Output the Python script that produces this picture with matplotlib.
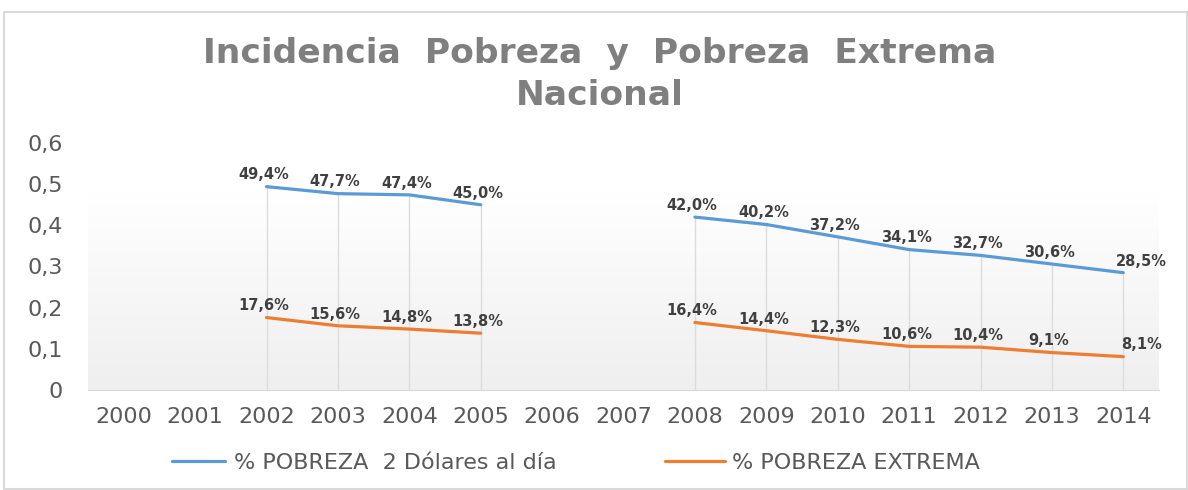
import numpy as np
import matplotlib.pyplot as plt
from matplotlib.patches import Rectangle
from matplotlib.colors import LinearSegmentedColormap

plt.rcParams['font.family'] = ['DejaVu Sans']

years = list(range(2000, 2015))
pobreza = [np.nan, np.nan, 0.494, 0.477, 0.474, 0.450, np.nan, np.nan,
           0.420, 0.402, 0.372, 0.341, 0.327, 0.306, 0.285]
extrema = [np.nan, np.nan, 0.176, 0.156, 0.148, 0.138, np.nan, np.nan,
           0.164, 0.144, 0.123, 0.106, 0.104, 0.091, 0.081]
ytick_vals = [0, 0.1, 0.2, 0.3, 0.4, 0.5, 0.6]
ytick_labels = ['0', '0,1', '0,2', '0,3', '0,4', '0,5', '0,6']
names = ['% POBREZA  2 Dólares al día', '% POBREZA EXTREMA']

blue = '#5B9BD5'
orange = '#ED7D31'
txt = '#595959'

fig = plt.figure(figsize=(11.88, 4.9), dpi=100)
fig.patches.append(Rectangle((4/1188, 1/490), 1183/1188, 477/490, transform=fig.transFigure,
                             fill=False, ec='#d9d9d9', lw=1.5))
ax = fig.add_axes([88/1188, 1-390/490, 1071/1188, 247/490])
x = np.arange(len(years))

# plot area gradient
grad = np.linspace(0, 1, 256).reshape(-1, 1)
cm = LinearSegmentedColormap.from_list('g', [(0, '#efefef'), (0.8, '#ffffff'), (1, '#ffffff')])
ax.imshow(grad, extent=(-0.5, len(years)-0.5, 0, 0.6), origin='lower', aspect='auto',
          cmap=cm, zorder=0)

# drop lines
for xi, v in zip(x, pobreza):
    if not np.isnan(v):
        ax.plot([xi, xi], [0, v], color='#dcdcdc', lw=1, zorder=1)

l1, = ax.plot(x, pobreza, color=blue, lw=2.3, solid_capstyle='round', zorder=3)
l2, = ax.plot(x, extrema, color=orange, lw=2.3, solid_capstyle='round', zorder=3)

for series in (pobreza, extrema):
    for i, (xi, v) in enumerate(zip(x, series)):
        if np.isnan(v):
            continue
        dx = 13 if i == 14 else -2
        ax.annotate(f'{v*100:.1f}%'.replace('.', ','), (xi, v), xytext=(dx, 3),
                    textcoords='offset points', ha='center', va='bottom',
                    fontsize=10.5, fontweight='bold', color='#404040', zorder=4)

ax.set_xlim(-0.5, len(years)-0.5)
ax.set_ylim(0, 0.6)
ax.set_xticks(x)
ax.set_xticklabels([str(y) for y in years])
ax.set_yticks(ytick_vals)
ax.set_yticklabels(ytick_labels)
ax.tick_params(length=0, labelsize=16, colors=txt)
ax.tick_params(axis='x', pad=12)
ax.tick_params(axis='y', pad=18)
for s in ['top', 'right', 'left']:
    ax.spines[s].set_visible(False)
ax.spines['bottom'].set_color('#d9d9d9')

fig.text(600/1188, 1-63/490, 'Incidencia  Pobreza  y  Pobreza  Extrema', ha='center', va='baseline',
         fontsize=24.8, fontweight='bold', color='#7f7f7f')
fig.text(600/1188, 1-105/490, 'Nacional', ha='center', va='baseline',
         fontsize=24.8, fontweight='bold', color='#7f7f7f')

fig.legend([l1], [names[0]], loc='center left', bbox_to_anchor=(172/1188, 1-463/490),
           frameon=False, fontsize=16, labelcolor=txt, handlelength=2.4,
           handletextpad=0.4, borderpad=0, borderaxespad=0)
fig.legend([l2], [names[1]], loc='center left', bbox_to_anchor=(665/1188, 1-463/490),
           frameon=False, fontsize=16, labelcolor=txt, handlelength=2.7,
           handletextpad=0.3, borderpad=0, borderaxespad=0)

fig.savefig('out.png', dpi=100)
